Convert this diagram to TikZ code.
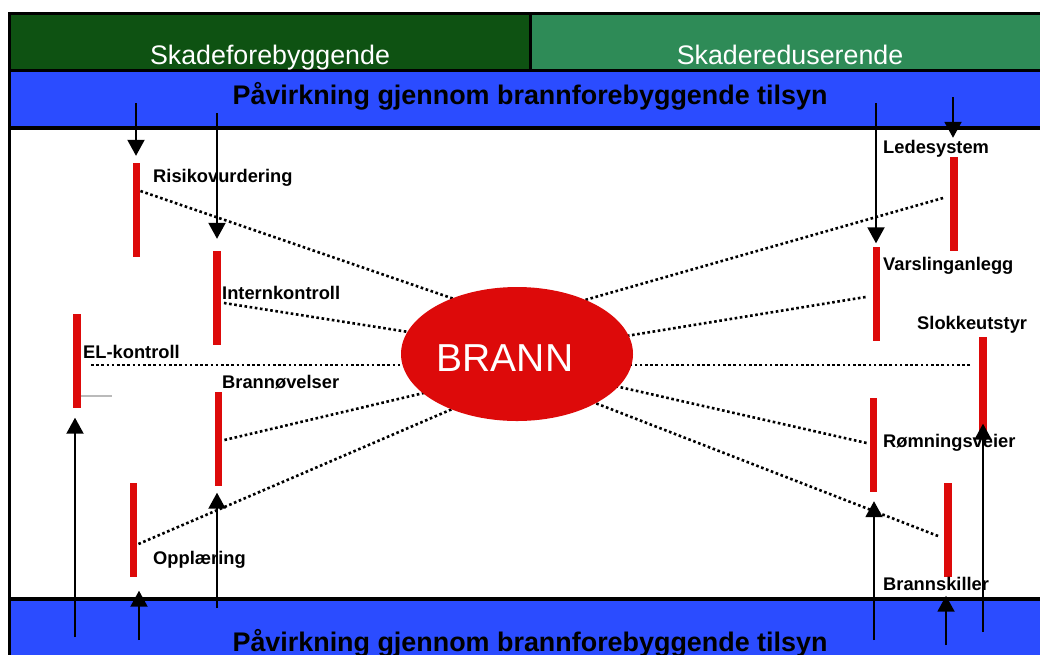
\documentclass[tikz,border=0pt]{standalone}
\usepackage{fontspec}
\setmainfont{Liberation Sans}
\usetikzlibrary{arrows.meta,calc,shapes.geometric}
\pgfdeclarelayer{bg}
\pgfsetlayers{bg,main}
\definecolor{dkgreen}{RGB}{14,82,18}
\definecolor{ltgreen}{RGB}{46,139,87}
\definecolor{bandblue}{RGB}{43,76,255}
\definecolor{firered}{RGB}{221,10,10}
\begin{document}
\begin{tikzpicture}[x=1pt,y=-1pt,
  bar/.style={fill=firered, draw=none, minimum width=7.5pt, minimum height=94pt, inner sep=0pt},
  lbl/.style={font=\fontsize{18.3}{19}\selectfont\bfseries, anchor=west, inner sep=0pt, text height=13pt, text depth=0pt},
  conn/.style={line width=2.6pt, dash pattern=on 2.6pt off 2.6pt},
  arr/.style={line width=2pt, -{Triangle[width=17pt,length=16pt]}},
  frame/.style={line width=3pt},
  head/.style={text=white, font=\fontsize{26.8}{28}\selectfont, anchor=base},
  title/.style={text=black, font=\fontsize{26.9}{28}\selectfont\bfseries, anchor=base}]
\useasboundingbox (0,0) rectangle (1040,654);
\clip (0,0) rectangle (1040,654);
\begin{pgfonlayer}{bg}
\fill[white] (0,0) rectangle (1040,654);
\fill[dkgreen] (9,13) rectangle (530,70);
\fill[ltgreen] (530,13) rectangle (1050,70);
\fill[bandblue] (9,70) rectangle (1050,128);
\fill[bandblue] (9,599) rectangle (1050,660);
\draw[frame] (1050,13) -- (9,13) -- (9,660);
\draw[frame] (530,13) -- (530,70);
\draw[frame] (9,70) -- (1050,70);
\draw[line width=3.5pt] (9,128) -- (1050,128);
\draw[line width=4pt] (9,599) -- (1050,599);
\end{pgfonlayer}

\node[head] (h1) at (270,64) {Skadeforebyggende};
\node[head] (h2) at (790,64) {Skadereduserende};
\node[title] (t1txt) at (530,104) {Påvirkning gjennom brannforebyggende tilsyn};
\node[title] (t2txt) at (530,651) {Påvirkning gjennom brannforebyggende tilsyn};

% BRANN
\node[ellipse, fill=firered, minimum width=232pt, minimum height=134pt, inner sep=0pt] (brann) at (517,354) {};
\node[text=white, font=\fontsize{39}{40}\selectfont, inner sep=0pt] (brannT) at (505,358) {BRANN};

% bars
\node[bar] (rv) at (136.5,210) {};
\node[bar] (ik) at (217,298) {};
\node[bar] (el) at (77,360.5) {};
\node[bar] (bo) at (218.5,438.5) {};
\node[bar] (op) at (133.5,529.5) {};
\node[bar] (ls) at (954,204) {};
\node[bar] (va) at (876.5,293.5) {};
\node[bar] (sk) at (983,383.5) {};
\node[bar] (ro) at (873.5,445) {};
\node[bar] (bs) at (948,529.5) {};

% grey tick at EL-kontroll
\draw[line width=2pt, draw=black!27] (el.east |- 0,396) -- (112,396);

% labels
\node[lbl] (rvL) at (153,176) {Risikovurdering};
\node[lbl] (ikL) at (222,293) {Internkontroll};
\node[lbl] (elL) at (83,352) {EL-kontroll};
\node[lbl] (boL) at (222,382) {Brannøvelser};
\node[lbl] (opL) at (153,558) {Opplæring};
\node[lbl] (lsL) at (883,147) {Ledesystem};
\node[lbl] (vaL) at (883,264) {Varslinganlegg};
\node[lbl] (skL) at (917,323) {Slokkeutstyr};
\node[lbl] (roL) at (883,441) {Rømningsveier};
\node[lbl] (bsL) at (883,584) {Brannskiller};

% dotted connectors
\begin{pgfonlayer}{bg}
\draw[conn] ($(rv.east)+(0,-19)$) -- ($(brann.center)+(-57,-53)$);
\draw[conn] ($(ik.east)+(3,5)$) -- ($(brann.center)+(-102,-21)$);
\draw[conn] ($(el.east)+(10,4.5)$) -- ($(brann.center)+(-107,11)$);
\draw[conn] ($(bo.east)+(2,1.5)$) -- ($(brann.center)+(-87,37.5)$);
\draw[conn] ($(op.east)+(1,14.5)$) -- ($(brann.center)+(-47,47.4)$);
\draw[conn] ($(ls.west)+(-7,-6)$) -- ($(brann.center)+(68,-54)$);
\draw[conn] ($(va.west)+(-7,3.5)$) -- ($(brann.center)+(103,-17)$);
\draw[conn] ($(sk.west)+(-9,-18.5)$) -- ($(brann.center)+(108,11)$);
\draw[conn] ($(ro.west)+(-3,-2)$) -- ($(brann.center)+(98,32)$);
\draw[conn] ($(bs.west)+(-6,6.5)$) -- ($(brann.center)+(73,47)$);
\end{pgfonlayer}

% arrows
\coordinate (a1) at (136,103);
\coordinate (a2) at (217,113);
\coordinate (a3) at (876,103);
\coordinate (a4) at (953,97);
\coordinate (b1) at (75,637);
\coordinate (b2) at (139,640);
\coordinate (b3) at (217,608);
\coordinate (b4) at (874,640);
\coordinate (b5) at (946,645);
\coordinate (b6) at (983,632);
\draw[arr, shorten >=7pt] (a1) -- (a1 |- rv.north);
\draw[arr, shorten >=12pt] (a2) -- (a2 |- ik.north);
\draw[arr, shorten >=3pt] (a3) -- (a3 |- va.north);
\draw[arr, shorten >=19pt] (a4) -- (a4 |- ls.north);
\draw[arr, shorten >=10pt] (b1) -- (b1 |- el.south);
\draw[arr, shorten >=14pt] (b2) -- (b2 |- op.south);
\draw[arr, shorten >=7pt] (b3) -- (b3 |- bo.south);
\draw[arr, shorten >=9pt] (b4) -- (b4 |- ro.south);
\draw[arr, shorten >=19pt] (b5) -- (b5 |- bs.south);
\draw[arr, shorten >=-7pt] (b6) -- (b6 |- sk.south);
\end{tikzpicture}
\end{document}
